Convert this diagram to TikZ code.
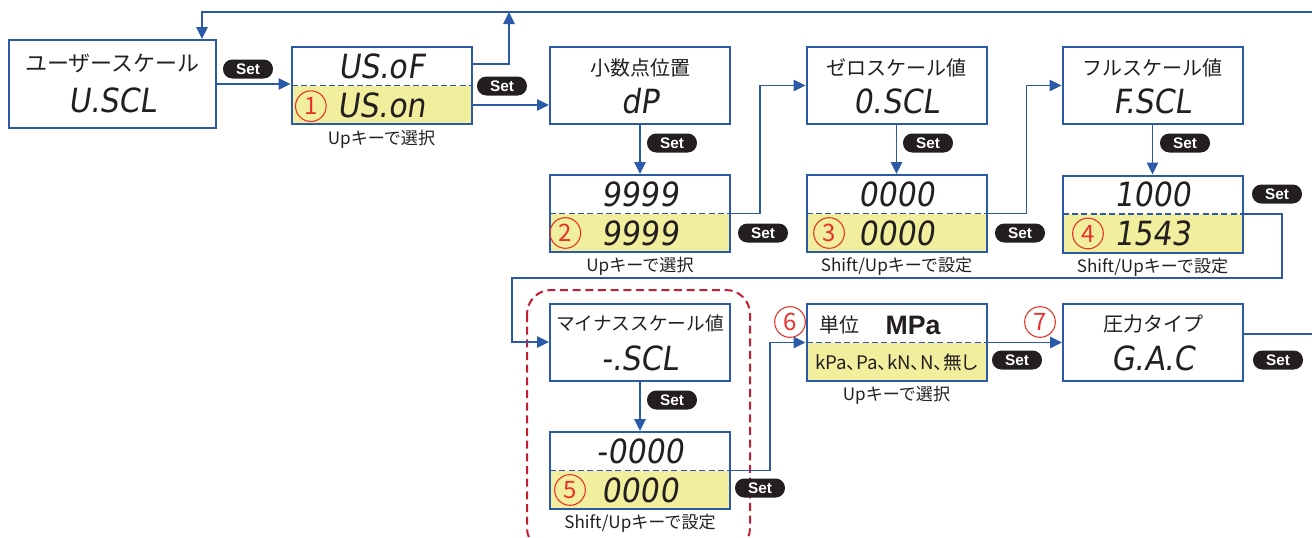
\documentclass[tikz,border=0pt]{standalone}
\usepackage{fontspec}
\setmainfont{Noto Sans CJK JP}
\newfontfamily\segfont{DejaVu Sans Condensed}[FakeSlant=0.15]
\newfontfamily\badgefont{Liberation Sans}
\usetikzlibrary{positioning, arrows.meta}
\definecolor{LineBlue}{HTML}{2B5BA8}
\definecolor{LcdYellow}{HTML}{F1EE9E}
\definecolor{NumRed}{HTML}{E8302A}
\definecolor{GroupRed}{HTML}{C41E32}
\definecolor{BadgeBlack}{HTML}{231F20}
\definecolor{InkDark}{HTML}{231F20}

\tikzset{
  lcdbox/.style={draw=LineBlue, line width=1.5pt, fill=white, minimum width=135pt,
    minimum height=57.75pt, inner sep=0pt},
  splitbox/.style={lcdbox, path picture={
      \fill[LcdYellow] (path picture bounding box.west) rectangle (path picture bounding box.south east);
      \draw[LineBlue, line width=1.3pt, dash pattern=on 4.5pt off 2.5pt]
        (path picture bounding box.west) -- (path picture bounding box.east);}},
  title/.style={font=\fontsize{15}{15}\selectfont, text=InkDark, inner sep=0pt},
  segtext/.style={font=\segfont\fontsize{25}{25}\selectfont, text=InkDark, inner sep=0pt},
  caption/.style={font=\fontsize{12.8}{13}\selectfont, text=InkDark, inner sep=0pt},
  setbadge/.style={fill=BadgeBlack, text=white, rounded corners=7pt, minimum width=37.5pt,
    minimum height=14.25pt, inner sep=0pt, font=\badgefont\bfseries\fontsize{11.5}{12}\selectfont},
  numcirc/.style={circle, draw=NumRed, line width=0.8pt, text=NumRed, minimum size=23pt,
    inner sep=0pt, font=\fontsize{18}{18}\selectfont},
  conn/.style={draw=LineBlue, line width=1.2pt},
  arr/.style={conn, -{Triangle[length=9pt, width=8.5pt]}},
  groupframe/.style={draw=GroupRed, line width=1.5pt, dash pattern=on 6pt off 3.5pt, rounded corners=18pt}
}

\begin{document}
\begin{tikzpicture}[x=0.75pt, y=-0.75pt]
  \useasboundingbox (0,0) rectangle (1312,537);
  \clip (0,0) rectangle (1312,537);
  % Minus scale group
  \draw[groupframe] (527,290) rectangle (750,552);

  % Row 1
  \node[lcdbox, minimum width=155.25pt, minimum height=66pt] (uscl) at (112.5,84) {};
  \node[title, font=\fontsize{16.5}{16.5}\selectfont] at ([yshift=15.75pt]uscl.center) {ユーザースケール};
  \node[segtext] at ([yshift=-12pt]uscl.center) {U.SCL};

  \node[splitbox] (usel) at (381.5,85.5) {};
  \node[segtext] at ([yshift=14.6pt]usel.center) {US.oF};
  \node[segtext] at ([yshift=-14.6pt]usel.center) {US.on};
  \node[numcirc] (n1) at ([xshift=-53pt, yshift=-15.5pt]usel.center) {1};
  \node[caption, below=3.5pt of usel] (cap1) {Upキーで選択};

  \node[lcdbox] (dpos) at (640,85.5) {};
  \node[title] at ([yshift=13.5pt]dpos.center) {小数点位置};
  \node[segtext] at ([yshift=-12pt]dpos.center) {dP};

  \node[lcdbox] (zscl) at (896.5,85.5) {};
  \node[title] at ([yshift=13.5pt]zscl.center) {ゼロスケール値};
  \node[segtext] at ([yshift=-12pt]zscl.center) {0.SCL};

  \node[lcdbox] (fscl) at (1152.5,85.5) {};
  \node[title] at ([yshift=13.5pt]fscl.center) {フルスケール値};
  \node[segtext] at ([yshift=-12pt]fscl.center) {F.SCL};

  % Row 2
  \node[splitbox] (dpval) at (640,213.5) {};
  \node[segtext] at ([yshift=14.6pt]dpval.center) {9999};
  \node[segtext] at ([yshift=-14.6pt]dpval.center) {9999};
  \node[numcirc] (n2) at ([xshift=-56pt, yshift=-14.6pt]dpval.center) {2};
  \node[caption, below=3pt of dpval] (cap2) {Upキーで選択};

  \node[splitbox] (zval) at (896.5,213.5) {};
  \node[segtext] at ([yshift=14.6pt]zval.center) {0000};
  \node[segtext] at ([yshift=-14.6pt]zval.center) {0000};
  \node[numcirc] (n3) at ([xshift=-50.6pt, yshift=-14.6pt]zval.center) {3};
  \node[caption, below=3pt of zval] (cap3) {Shift/Upキーで設定};

  \node[splitbox] (fval) at (1152.5,214) {};
  \node[segtext] at ([yshift=14.6pt]fval.center) {1000};
  \node[segtext] at ([yshift=-14.6pt]fval.center) {1543};
  \node[numcirc] (n4) at ([xshift=-48.4pt, yshift=-14.6pt]fval.center) {4};
  \node[caption, below=3pt of fval] (cap4) {Shift/Upキーで設定};

  % Row 3
  \node[lcdbox] (mscl) at (640,342) {};
  \node[title, font=\fontsize{14}{14}\selectfont] at ([yshift=14pt]mscl.center) {マイナススケール値};
  \node[segtext] at ([yshift=-12pt]mscl.center) {-.SCL};

  \node[splitbox] (mval) at (640,470.5) {};
  \node[segtext] at ([yshift=14.6pt]mval.center) {-0000};
  \node[segtext] at ([yshift=-14.6pt]mval.center) {0000};
  \node[numcirc] (n5) at ([xshift=-52.5pt, yshift=-14.6pt]mval.center) {5};
  \node[caption, below=3pt of mval] (cap5) {Shift/Upキーで設定};

  \node[splitbox] (unit) at (896.5,342.5) {};
  \node[title] at ([xshift=-42.4pt, yshift=13pt]unit.center) {単位};
  \node[title, font=\badgefont\bfseries\fontsize{20}{20}\selectfont] at ([xshift=12.4pt, yshift=13pt]unit.center) {MPa};
  \node[caption, font=\addfontfeatures{RawFeature=+palt}\fontsize{14}{14}\selectfont]
    at ([yshift=-15pt]unit.center) {kPa、Pa、kN、N、無し};
  \node[numcirc] (n6) at (790,322) {6};
  \node[caption, below=3pt of unit] (cap6) {Upキーで選択};

  \node[lcdbox] (ptype) at (1153,342.5) {};
  \node[title] at ([yshift=14pt]ptype.center) {圧力タイプ};
  \node[segtext] at ([yshift=-12pt]ptype.center) {G.A.C};
  \node[numcirc] (n7) at (1040,322) {7};

  % Set keys
  \node[setbadge] (s1) at (248,69) {Set};
  \node[setbadge] (s2) at (502,86) {Set};
  \node[setbadge] (s3) at (672,143) {Set};
  \node[setbadge] (s4) at (763,233) {Set};
  \node[setbadge] (s5) at (928,143) {Set};
  \node[setbadge] (s6) at (1020,233) {Set};
  \node[setbadge] (s7) at (1185,143) {Set};
  \node[setbadge] (s8) at (1277,194) {Set};
  \node[setbadge] (s9) at (672,400) {Set};
  \node[setbadge] (s10) at (760,488) {Set};
  \node[setbadge] (s11) at (1017,360) {Set};
  \node[setbadge] (s12) at (1278,360) {Set};

  % Connectors
  \coordinate (topright) at (1312,12);
  \coordinate (toploop) at (202,12);
  \coordinate (topjoin) at (509,12);
  \coordinate (wrapR) at (1282,278);
  \coordinate (wrapL) at (512,278);
  \coordinate (gacout) at (1312,334);
  \draw[arr] (topright) -- (toploop) -- (toploop |- uscl.north);
  \draw[arr] (uscl.east) -- (uscl.east -| usel.west);
  \draw[arr] ([yshift=16pt]usel.east) -| (topjoin);
  \draw[arr] ([yshift=-14.6pt]usel.east) -- ([yshift=-14.6pt]usel.east -| dpos.west);
  \draw[arr] (dpos.south) -- (dpval.north);
  \draw[arr] (dpval.east) -- ++(29,0) |- (zscl.west);
  \draw[arr] (zscl.south) -- (zval.north);
  \draw[arr] (zval.east) -- ++(39,0) |- (fscl.west);
  \draw[arr] (fscl.south) -- (fval.north);
  \draw[arr] (fval.east) -| (wrapR) -- (wrapL) |- (mscl.west);
  \draw[arr] (mscl.south) -- (mval.north);
  \draw[arr] (mval.east) -- ++(39,0) |- (unit.west);
  \draw[arr] (unit.east) -- (ptype.west);
  \draw[conn] (ptype.east |- gacout) -- (gacout);
\end{tikzpicture}
\end{document}
